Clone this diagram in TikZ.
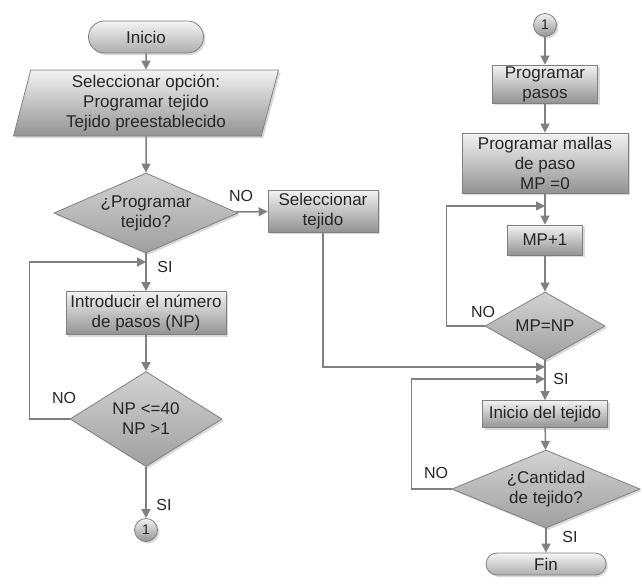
\documentclass[tikz,border=0pt]{standalone}
\usepackage{fontspec}
\setmainfont{Liberation Sans}
\usepackage{tikz}
\usetikzlibrary{arrows.meta,shapes.geometric,shapes.misc,shadows}

\begin{document}
\begin{tikzpicture}[x=1pt, y=-1pt,
	every node/.style={font=\fontsize{17}{20}\selectfont, text=black!85, align=center},
	shaded/.style={draw=gray, line width=0.8pt, top color=gray!10, bottom color=gray!85,
		drop shadow={opacity=0.3, shadow xshift=2pt, shadow yshift=-2pt}},
	box/.style={shaded, rectangle, inner sep=1pt},
	terminal/.style={shaded, rounded rectangle, inner sep=1pt, top color=gray!8, bottom color=gray!65},
	decision/.style={shaded, diamond, inner sep=0pt, top color=gray!35, bottom color=gray!75},
	inout/.style={shaded, trapezium, trapezium left angle=78, trapezium right angle=102,
		trapezium stretches=true, inner sep=0pt},
	connector/.style={shaded, circle, minimum size=23pt, inner sep=0pt, font=\fontsize{14}{16}\selectfont},
	arr/.style={draw=gray, line width=1.5pt, -{Triangle[width=9pt,length=9pt]}},
	lbl/.style={font=\fontsize{16}{18}\selectfont}]

	% frame
	\useasboundingbox (0,0) rectangle (644,584);

	% left column
	\node[terminal, minimum width=117pt, minimum height=32pt] (inicio) at (146,37) {Inicio};
	\node[inout, minimum width=265pt, minimum height=66pt] (opcion) at (146,103)
		{Seleccionar opción:\\Programar tejido\\Tejido preestablecido};
	\node[decision, minimum width=184pt, minimum height=80pt, aspect=2.3] (prog) at (146,213)
		{¿Programar\\tejido?};
	\node[box, minimum width=110pt, minimum height=42pt] (selec) at (323,211) {Seleccionar\\tejido};
	\node[box, minimum width=160pt, minimum height=43pt] (intro) at (146,313)
		{Introducir el número\\de pasos (NP)};
	\node[decision, minimum width=152pt, minimum height=95pt, aspect=1.6] (np) at (146,419)
		{NP <=40\\NP >1};
	\node[connector] (conA) at (146,530) {1};

	% right column
	\node[connector] (conB) at (545,25) {1};
	\node[box, minimum width=105pt, minimum height=38pt] (pasos) at (545,84) {Programar\\pasos};
	\node[box, minimum width=166pt, minimum height=60pt] (mallas) at (545,163)
		{Programar mallas\\de paso\\MP =0};
	\node[box, minimum width=75pt, minimum height=30pt] (mp) at (545,240) {MP+1};
	\node[decision, minimum width=120pt, minimum height=68pt, aspect=1.7] (mpnp) at (545,326) {MP=NP};
	\node[box, minimum width=125pt, minimum height=27pt] (tejido) at (545,414) {Inicio del tejido};
	\node[decision, minimum width=188pt, minimum height=78pt, aspect=2.4] (cant) at (546,489)
		{¿Cantidad\\de tejido?};
	\node[terminal, minimum width=122pt, minimum height=22pt] (fin) at (546,564) {Fin};

	% joins
	\coordinate (j1) at (146,262);
	\coordinate (j2) at (545,206);
	\coordinate (j3) at (545,367);
	\coordinate (j4) at (545,379);

	% connectors
	\draw[arr] (inicio) -- (opcion);
	\draw[arr] (opcion) -- (prog);
	\draw[arr] (prog) -- (selec);
	\draw[arr] (prog) -- (intro);
	\draw[arr] (intro) -- (np);
	\draw[arr] (np) -- (conA);
	\draw[arr] (np.west) -- ++(-40,0) |- (j1);

	\draw[arr] (conB) -- (pasos);
	\draw[arr] (pasos) -- (mallas);
	\draw[arr] (mallas) -- (mp);
	\draw[arr] (mp) -- (mpnp);
	\draw[arr] (mpnp.west) -- ++(-38,0) |- (j2);
	\draw[arr] (mpnp) -- (tejido);
	\draw[arr] (selec) |- (j3);
	\draw[arr] (tejido) -- (cant);
	\draw[arr] (cant.west) -- ++(-40,0) |- (j4);
	\draw[arr] (cant) -- (fin);

	% labels
	\node[lbl] (no1) at (241,196) {NO};
	\node[lbl] (si1) at (165,267) {SI};
	\node[lbl] (no2) at (64,398) {NO};
	\node[lbl] (si2) at (164,505) {SI};
	\node[lbl] (no3) at (483,312) {NO};
	\node[lbl] (si3) at (561,379) {SI};
	\node[lbl] (no4) at (436,473) {NO};
	\node[lbl] (si4) at (570,537) {SI};

\end{tikzpicture}
\end{document}
